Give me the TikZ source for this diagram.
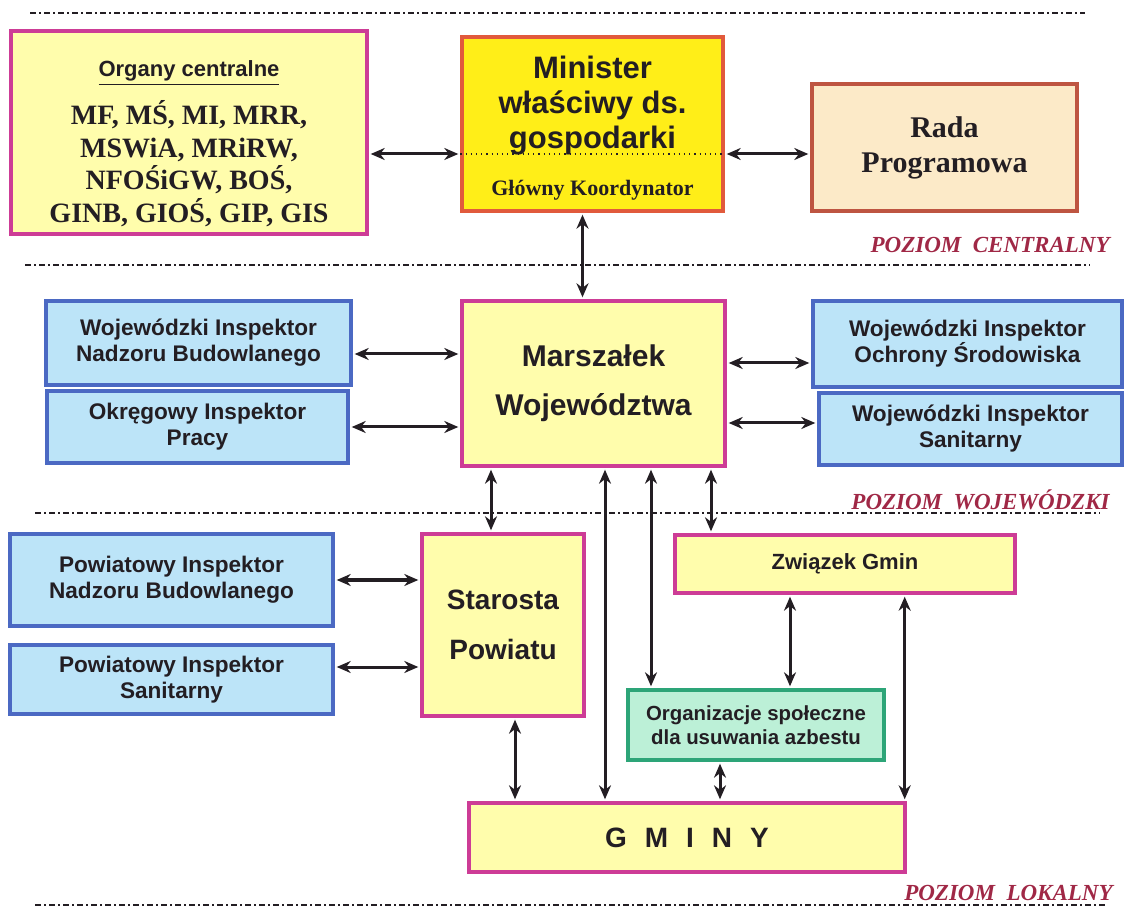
\documentclass[tikz,border=0pt]{standalone}
\usepackage{fontspec}
\setmainfont{Liberation Serif}
\setsansfont{Liberation Sans}
\usetikzlibrary{arrows.meta}

\definecolor{paleyellow}{RGB}{255,253,172}
\definecolor{brightyellow}{RGB}{255,238,24}
\definecolor{magentaline}{RGB}{205,60,150}
\definecolor{ministerline}{RGB}{225,90,60}
\definecolor{radafill}{RGB}{252,234,200}
\definecolor{radaline}{RGB}{190,85,65}
\definecolor{paleblue}{RGB}{188,228,248}
\definecolor{blueline}{RGB}{75,105,195}
\definecolor{palegreen}{RGB}{188,240,215}
\definecolor{greenline}{RGB}{45,165,120}
\definecolor{levelred}{RGB}{160,40,70}
\definecolor{ink}{RGB}{35,30,35}

\begin{document}
\begin{tikzpicture}[x=0.5pt,y=-0.5pt,
    box/.style={draw, line width=1.7pt, align=center, inner sep=0pt, text=ink},
    yellowbox/.style={box, draw=magentaline, fill=paleyellow},
    bluebox/.style={box, draw=blueline, fill=paleblue, font=\sffamily\bfseries\fontsize{11.3}{13}\selectfont},
    conn/.style={{Stealth[length=7pt,width=6pt]}-{Stealth[length=7pt,width=6pt]}, line width=1.5pt, draw=ink, shorten <=1pt, shorten >=1pt},
    level/.style={draw=ink, line width=1pt, dash pattern=on 3pt off 1.5pt on 1pt off 1.5pt},
    levellabel/.style={anchor=east, inner sep=0pt, text=levelred, font=\rmfamily\bfseries\itshape\fontsize{11.5}{13}\selectfont}]
    %%%%% START %%%%%
    \useasboundingbox (0,0) rectangle (1126,909);

    % level separators
    \coordinate (sep1l) at (30,13);   \coordinate (sep1r) at (1085,13);
    \coordinate (sep2l) at (25,265);  \coordinate (sep2r) at (1090,265);
    \coordinate (sep3l) at (35,513);  \coordinate (sep3r) at (1100,513);
    \coordinate (sep4l) at (35,905);  \coordinate (sep4r) at (1105,905);
    \draw[level] (sep1l) -- (sep1r);
    \draw[level] (sep2l) -- (sep2r);
    \draw[level] (sep3l) -- (sep3r);
    \draw[level] (sep4l) -- (sep4r);

    \node[levellabel] (lvlcentral) at (1110,245) {POZIOM\ \ CENTRALNY};
    \node[levellabel] (lvlwoj) at (1110,500) {POZIOM\ \ WOJEWÓDZKI};
    \node[levellabel] (lvllok) at (1113,893) {POZIOM\ \ LOKALNY};

    % central level
    \node[yellowbox, minimum width=178pt, minimum height=101.5pt] (organy) at (189,132.5) {};
    \node[text=ink, font=\sffamily\bfseries\fontsize{11}{13}\selectfont] (orghead) at (189,73) {\underline{Organy centralne}};
    \node[text=ink, align=center, font=\rmfamily\bfseries\fontsize{14}{16.25}\selectfont] (orglist) at (189,163.5)
        {MF, MŚ, MI, MRR,\\MSWiA, MRiRW,\\NFOŚiGW, BOŚ,\\GINB, GIOŚ, GIP, GIS};

    \node[box, draw=ministerline, fill=brightyellow, minimum width=130.5pt, minimum height=87pt] (minister) at (592.5,124) {};
    \node[text=ink, align=center, font=\sffamily\bfseries\fontsize{15.5}{17.5}\selectfont] (mintext) at (592.5,106)
        {Minister\\właściwy ds.\\gospodarki};
    \node[text=ink, font=\rmfamily\bfseries\fontsize{11}{13}\selectfont] (koord) at (592.5,190) {Główny Koordynator};
    \coordinate (dotl) at ([yshift=-15pt]minister.west);
    \coordinate (dotr) at ([yshift=-15pt]minister.east);
    \draw[ink, line width=0.6pt, dotted] (dotl) -- (dotr);

    \node[box, draw=radaline, fill=radafill, minimum width=132.5pt, minimum height=63.5pt,
        font=\rmfamily\bfseries\fontsize{15}{17.5}\selectfont] (rada) at (944.5,147.5) {Rada\\Programowa};

    % voivodeship level
    \node[yellowbox, minimum width=131.5pt, minimum height=82.5pt,
        font=\sffamily\bfseries\fontsize{15}{24.5}\selectfont] (marsz) at (593.5,383.5) {Marszałek\\Województwa};
    \node[bluebox, minimum width=152.5pt, minimum height=42pt] (winb) at (198.5,343) {Wojewódzki Inspektor\\Nadzoru Budowlanego};
    \node[bluebox, minimum width=150.5pt, minimum height=36pt] (oip) at (197.5,427) {Okręgowy Inspektor\\Pracy};
    \node[bluebox, minimum width=154.5pt, minimum height=43pt] (wios) at (967.5,344) {Wojewódzki Inspektor\\Ochrony Środowiska};
    \node[bluebox, minimum width=151.5pt, minimum height=36pt] (wis) at (970.5,429) {Wojewódzki Inspektor\\Sanitarny};

    % local level
    \node[yellowbox, minimum width=81pt, minimum height=91pt,
        font=\sffamily\bfseries\fontsize{14}{25}\selectfont] (starosta) at (503,625) {Starosta\\Powiatu};
    \node[bluebox, minimum width=161.5pt, minimum height=46pt] (pinb) at (171.5,580) {Powiatowy Inspektor\\Nadzoru Budowlanego};
    \node[bluebox, minimum width=161.5pt, minimum height=34.5pt] (pis) at (171.5,679.5) {Powiatowy Inspektor\\Sanitarny};
    \node[yellowbox, minimum width=170pt, minimum height=29pt,
        font=\sffamily\bfseries\fontsize{11}{13}\selectfont] (zwiazek) at (845,564) {Związek Gmin};
    \node[box, draw=greenline, fill=palegreen, minimum width=128pt, minimum height=35pt,
        font=\sffamily\bfseries\fontsize{10.2}{12}\selectfont] (org) at (756,725) {Organizacje społeczne\\dla usuwania azbestu};
    \node[yellowbox, minimum width=218pt, minimum height=34.5pt,
        font=\sffamily\bfseries\fontsize{14}{16}\selectfont] (gminy) at (687,837.5)
        {G\hspace{9pt}M\hspace{9pt}I\hspace{9pt}N\hspace{9pt}Y};

    % connections
    \draw[conn] (organy.east |- dotl) -- (dotl);
    \draw[conn] (dotr) -- (rada.west |- dotr);
    \draw[conn] ([xshift=-5pt]minister.south) -- ([xshift=-5pt]minister.south |- marsz.north);

    \draw[conn] ([yshift=-5.5pt]winb.east) -- ([yshift=-5.5pt]winb.east -| marsz.west);
    \draw[conn] (oip.east) -- (oip.east -| marsz.west);
    \draw[conn] ([yshift=-9.5pt]wios.west -| marsz.east) -- ([yshift=-9.5pt]wios.west);
    \draw[conn] ([yshift=3pt]wis.west -| marsz.east) -- ([yshift=3pt]wis.west);

    \draw[conn] ([xshift=-6pt]starosta.north |- marsz.south) -- ([xshift=-6pt]starosta.north);
    \draw[conn] ([xshift=-41pt]gminy.north |- marsz.south) -- ([xshift=-41pt]gminy.north);
    \draw[conn] ([xshift=-52.5pt]org.north |- marsz.south) -- ([xshift=-52.5pt]org.north);
    \draw[conn] ([xshift=-67pt]zwiazek.north |- marsz.south) -- ([xshift=-67pt]zwiazek.north);

    \draw[conn] (pinb.east) -- (pinb.east -| starosta.west);
    \draw[conn] ([yshift=6.25pt]pis.east) -- ([yshift=6.25pt]pis.east -| starosta.west);
    \draw[conn] ([xshift=6pt]starosta.south) -- ([xshift=6pt]starosta.south |- gminy.north);

    \draw[conn] ([xshift=17pt]org.north |- zwiazek.south) -- ([xshift=17pt]org.north);
    \draw[conn] ([xshift=-1pt]gminy.north east |- zwiazek.south) -- ([xshift=-1pt]gminy.north east);
    \draw[conn] ([xshift=-18pt]org.south) -- ([xshift=-18pt]org.south |- gminy.north);
    %%%%% END %%%%%
\end{tikzpicture}
\end{document}
